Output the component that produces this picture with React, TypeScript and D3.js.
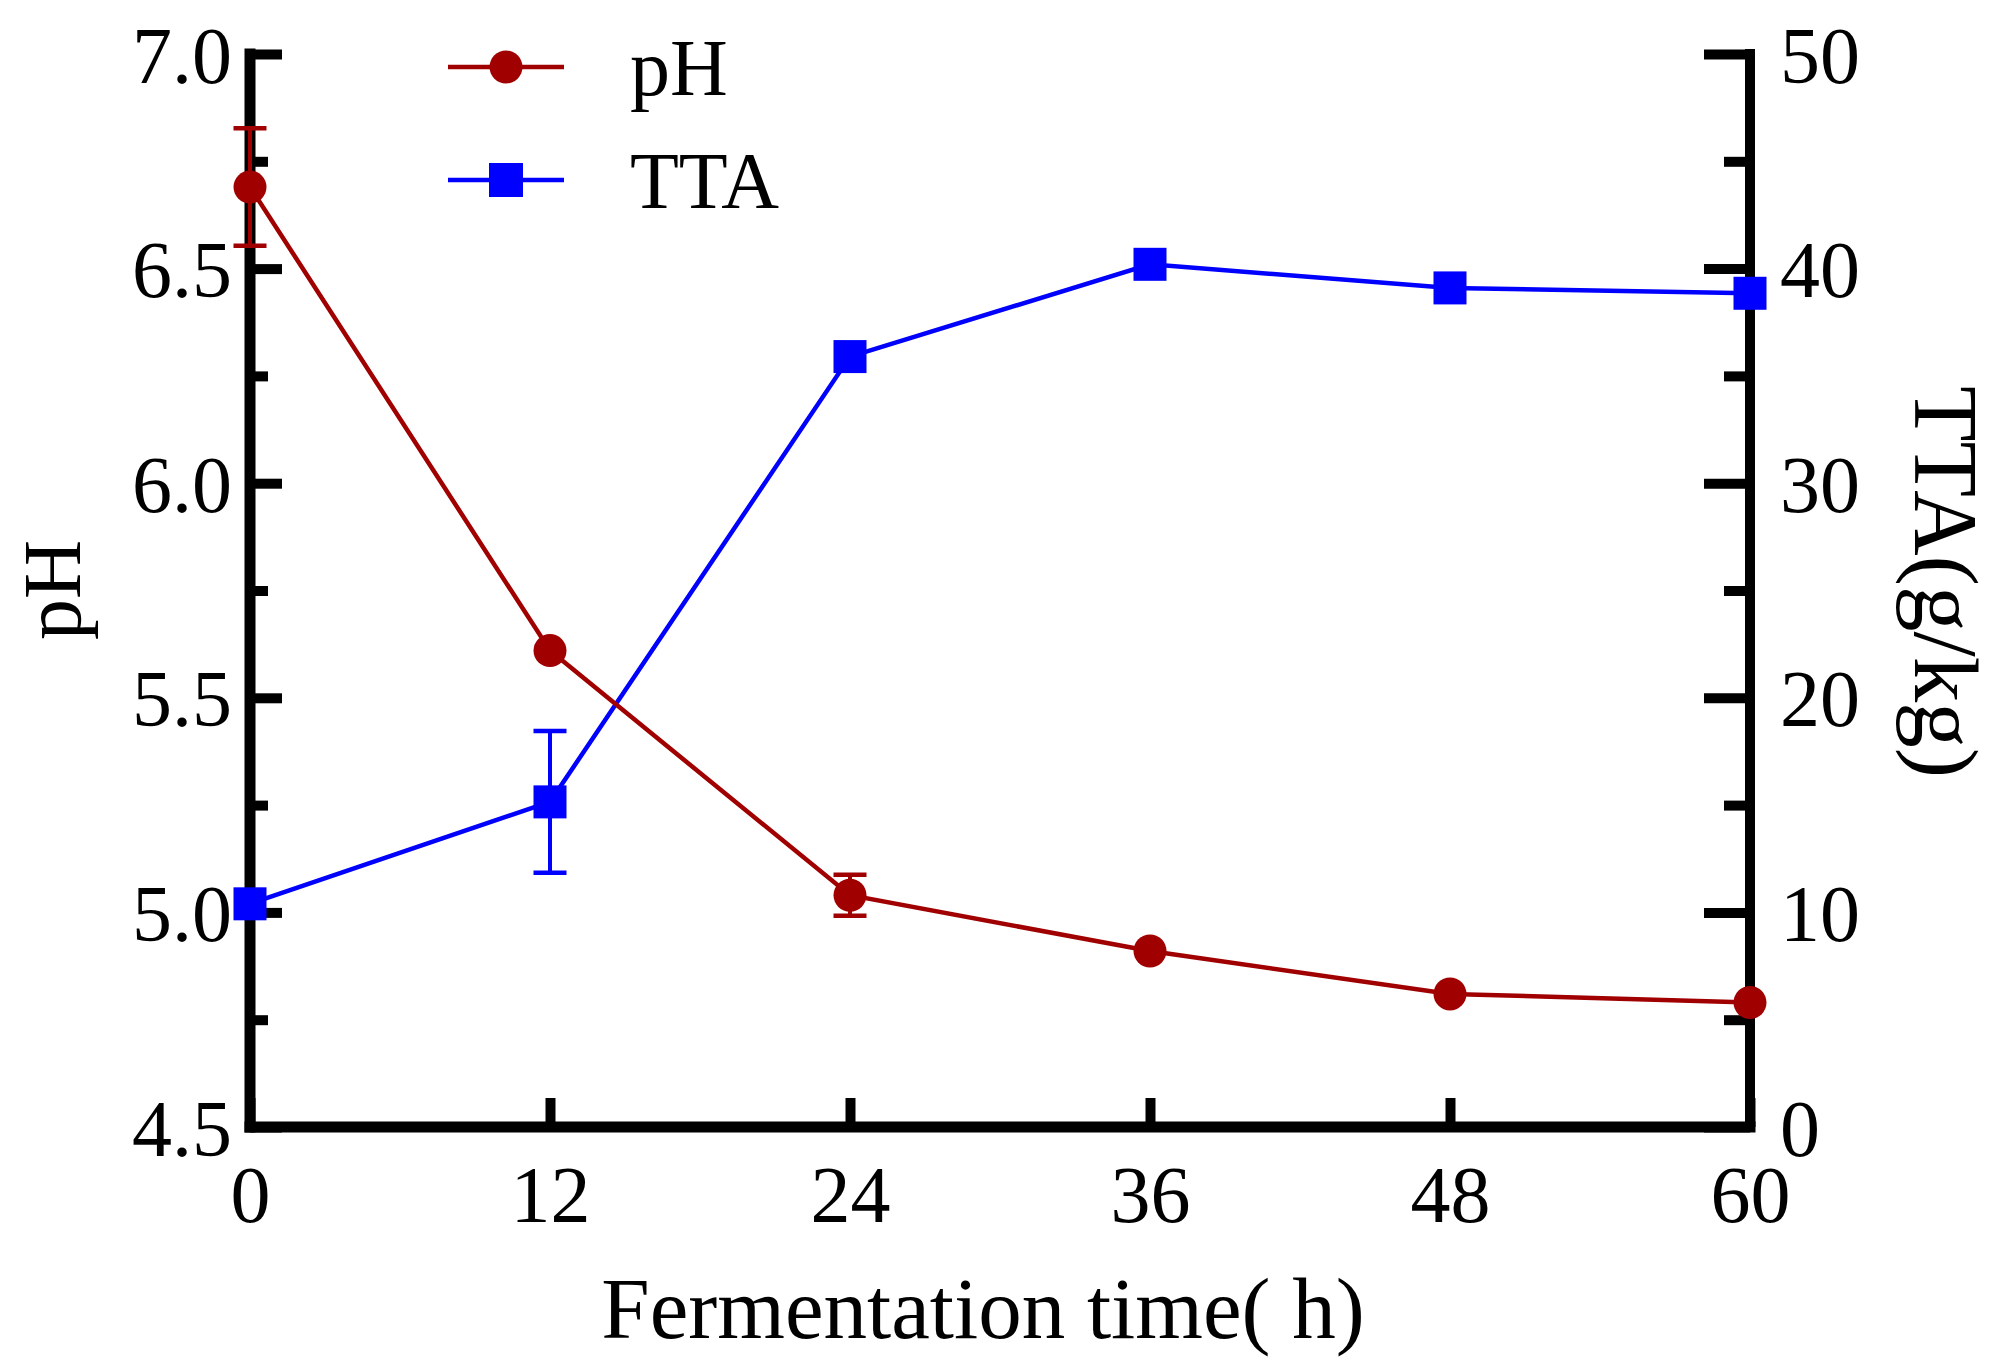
import { useEffect, useRef } from 'react'
import * as d3 from 'd3'

const times = [0, 12, 24, 36, 48, 60]
const phValues = [6.69, 5.61, 5.04, 4.91, 4.81, 4.79]
const phErrors = [0.137, 0, 0.048, 0, 0, 0]
const ttaValues = [10.4, 15.15, 35.9, 40.2, 39.1, 38.85]
const ttaErrors = [0, 3.3, 0, 0, 0, 0]

const phTicks = [4.5, 5.0, 5.5, 6.0, 6.5, 7.0]
const phMinorTicks = [4.75, 5.25, 5.75, 6.25, 6.75]
const ttaTicks = [0, 10, 20, 30, 40, 50]
const ttaMinorTicks = [5, 15, 25, 35, 45]

const RED = '#A00000'
const BLUE = '#0000FF'
const FONT = '"Liberation Serif", "Times New Roman", serif'

export default function App() {
  const svgRef = useRef<SVGSVGElement>(null)

  useEffect(() => {
    if (!svgRef.current) return
    const svg = d3.select(svgRef.current)
    svg.selectAll('*').remove()

    const left = 250, right = 1750, top = 54, bottom = 1127

    const x = d3.scaleLinear().domain([0, 60]).range([left, right])
    const yL = d3.scaleLinear().domain([4.5, 7.0]).range([bottom, top])
    const yR = d3.scaleLinear().domain([0, 50]).range([bottom, top])

    const styleAxis = (g: d3.Selection<SVGGElement, unknown, null, undefined>) => {
      g.select('.domain').remove()
      g.selectAll('line').attr('stroke', '#000').attr('stroke-width', 10)
      g.selectAll('text').style('font-family', FONT).style('font-size', '80px').attr('fill', '#000')
    }

    // left axis
    svg.append('g').attr('transform', `translate(${left},0)`)
      .call(d3.axisLeft(yL).tickValues(phTicks).tickSizeInner(-32).tickSizeOuter(0).tickPadding(18).tickFormat(d3.format('.1f')))
      .call(styleAxis)
      .selectAll('text').attr('dy', '0.35em')
    svg.append('g').attr('transform', `translate(${left},0)`)
      .call(d3.axisLeft(yL).tickValues(phMinorTicks).tickSizeInner(-18).tickSizeOuter(0).tickFormat(() => ''))
      .call(styleAxis)

    // right axis
    svg.append('g').attr('transform', `translate(${right},0)`)
      .call(d3.axisRight(yR).tickValues(ttaTicks).tickSizeInner(-46).tickSizeOuter(0).tickPadding(30).tickFormat(d3.format('d')))
      .call(styleAxis)
      .selectAll('text').attr('dy', '0.35em')
    svg.append('g').attr('transform', `translate(${right},0)`)
      .call(d3.axisRight(yR).tickValues(ttaMinorTicks).tickSizeInner(-26).tickSizeOuter(0).tickFormat(() => ''))
      .call(styleAxis)

    // bottom axis
    svg.append('g').attr('transform', `translate(0,${bottom})`)
      .call(d3.axisBottom(x).tickValues(times).tickSizeInner(-29).tickSizeOuter(0).tickPadding(38).tickFormat(d3.format('d')))
      .call(styleAxis)

    // axis lines
    const axes = svg.append('g').attr('stroke', '#000').attr('stroke-linecap', 'square')
    axes.append('line').attr('x1', left).attr('x2', left).attr('y1', top).attr('y2', bottom).attr('stroke-width', 11)
    axes.append('line').attr('x1', right).attr('x2', right).attr('y1', top).attr('y2', bottom).attr('stroke-width', 10)
    axes.append('line').attr('x1', left).attr('x2', right).attr('y1', bottom).attr('y2', bottom).attr('stroke-width', 11)

    // TTA series
    const ttaG = svg.append('g')
    ttaG.append('path')
      .datum(ttaValues)
      .attr('d', d3.line<number>().x((_, i) => x(times[i])).y(d => yR(d)))
      .attr('fill', 'none').attr('stroke', BLUE).attr('stroke-width', 4.5)
    ttaValues.forEach((v, i) => {
      const e = ttaErrors[i]
      if (e > 0) {
        const cx = x(times[i])
        ttaG.append('line').attr('x1', cx).attr('x2', cx).attr('y1', yR(v + e)).attr('y2', yR(v - e)).attr('stroke', BLUE).attr('stroke-width', 4)
        ;[v + e, v - e].forEach(ev => {
          ttaG.append('line').attr('x1', cx - 16.5).attr('x2', cx + 16.5).attr('y1', yR(ev)).attr('y2', yR(ev)).attr('stroke', BLUE).attr('stroke-width', 4.5)
        })
      }
      ttaG.append('rect').attr('x', x(times[i]) - 16.5).attr('y', yR(v) - 16.5).attr('width', 33).attr('height', 33).attr('fill', BLUE)
    })

    // pH series
    const phG = svg.append('g')
    phG.append('path')
      .datum(phValues)
      .attr('d', d3.line<number>().x((_, i) => x(times[i])).y(d => yL(d)))
      .attr('fill', 'none').attr('stroke', RED).attr('stroke-width', 4.5)
    phValues.forEach((v, i) => {
      const e = phErrors[i]
      if (e > 0) {
        const cx = x(times[i])
        phG.append('line').attr('x1', cx).attr('x2', cx).attr('y1', yL(v + e)).attr('y2', yL(v - e)).attr('stroke', RED).attr('stroke-width', 4)
        ;[v + e, v - e].forEach(ev => {
          phG.append('line').attr('x1', cx - 16.5).attr('x2', cx + 16.5).attr('y1', yL(ev)).attr('y2', yL(ev)).attr('stroke', RED).attr('stroke-width', 4.5)
        })
      }
      phG.append('circle').attr('cx', x(times[i])).attr('cy', yL(v)).attr('r', 16.5).attr('fill', RED)
    })

    // titles
    svg.append('text').attr('transform', 'translate(80,590) rotate(-90)')
      .attr('text-anchor', 'middle').style('font-family', FONT).style('font-size', '82px').text('pH')
    svg.append('text').attr('transform', 'translate(1915,582) rotate(90)')
      .attr('text-anchor', 'middle').style('font-family', FONT).style('font-size', '91px').text('TTA(g/kg)')
    svg.append('text').attr('x', 983).attr('y', 1338)
      .attr('text-anchor', 'middle').style('font-family', FONT).style('font-size', '87px').text('Fermentation time( h)')

    // legend
    const legend = [
      { name: 'pH', color: RED, shape: 'circle', y: 67, ty: 95 },
      { name: 'TTA', color: BLUE, shape: 'square', y: 180, ty: 208 },
    ]
    const lg = svg.append('g')
    legend.forEach(l => {
      lg.append('line').attr('x1', 448).attr('x2', 564).attr('y1', l.y).attr('y2', l.y).attr('stroke', l.color).attr('stroke-width', 4.5)
      if (l.shape === 'circle') {
        lg.append('circle').attr('cx', 506).attr('cy', l.y).attr('r', 16.5).attr('fill', l.color)
      } else {
        lg.append('rect').attr('x', 506 - 17).attr('y', l.y - 17).attr('width', 34).attr('height', 34).attr('fill', l.color)
      }
      lg.append('text').attr('x', 630).attr('y', l.ty).style('font-family', FONT).style('font-size', '80px').text(l.name)
    })
  }, [])

  return (
    <div style={{ position: 'absolute', left: 0, top: 0, width: 2008, height: 1370, background: '#fff' }}>
      <svg ref={svgRef} width={2008} height={1370} viewBox="0 0 2008 1370" style={{ display: 'block' }} />
    </div>
  )
}
